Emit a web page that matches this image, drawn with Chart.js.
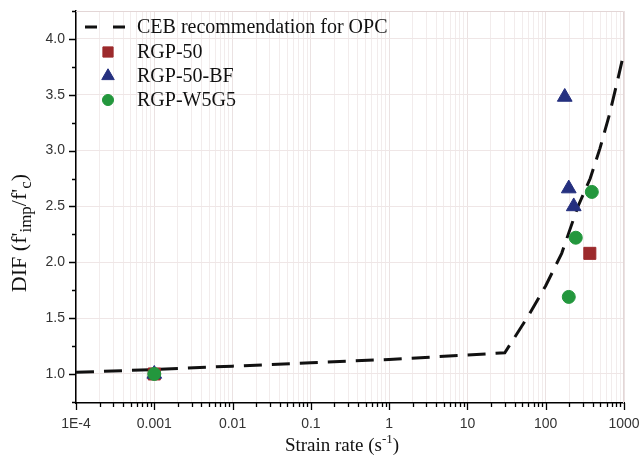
<!DOCTYPE html>
<html>
<head>
<meta charset="utf-8">
<script src="https://cdn.jsdelivr.net/npm/chart.js@4.4.0/dist/chart.umd.min.js"></script>
<style>
  html, body { margin: 0; padding: 0; background: #fff; }
  #wrap { width: 643px; height: 459px; }
</style>
</head>
<body>
<div id="wrap"><canvas id="chart"></canvas></div>
<script>
// CEB curve
const cebRate = [1e-4, 0.001, 0.01, 0.1, 1, 10, 30, 60, 100, 160, 258, 370, 493, 650, 835, 1000];
const cebDif = [1.015, 1.04, 1.07, 1.10, 1.13, 1.17, 1.19, 1.52, 1.79, 2.08, 2.50, 2.75, 3.02, 3.32, 3.64, 3.88];

// measured points
const rgp50Rate = [0.001, 366];
const rgp50Dif = [1.0, 2.08];
const rgpBfRate = [0.001, 175, 197, 228];
const rgpBfDif = [1.0, 3.48, 2.66, 2.50];
const w5g5Rate = [0.001, 388, 242, 197];
const w5g5Dif = [1.0, 2.63, 2.22, 1.69];

const xMajorTicks = [1e-4, 0.001, 0.01, 0.1, 1, 10, 100, 1000];
const xTickLabels = ['1E-4', '0.001', '0.01', '0.1', '1', '10', '100', '1000'];
const yMajorTicks = [1.0, 1.5, 2.0, 2.5, 3.0, 3.5, 4.0];

const legendLabels = ['CEB recommendation for OPC', 'RGP-50', 'RGP-50-BF', 'RGP-W5G5'];

function zip(xs, ys) {
    return xs.map((x, i) => ({x: x, y: ys[i]}));
}

// minor ticks: 2..9 in every decade, 0.25 steps on y
const xAllTicks = [];
for (let i = 0; i < xMajorTicks.length; i++) {
    xAllTicks.push(xMajorTicks[i]);
    if (i < xMajorTicks.length - 1) {
        for (let k = 2; k <= 9; k++) xAllTicks.push(Number((k * xMajorTicks[i]).toPrecision(3)));
    }
}
const yAllTicks = [];
for (let v = 0.75; v <= 4.2501; v += 0.25) yAllTicks.push(Math.round(v * 100) / 100);

function isXMajor(v) {
    return xMajorTicks.some(m => Math.abs(m - v) / m < 1e-6);
}
function isYMajor(v) {
    return yMajorTicks.some(m => Math.abs(m - v) < 1e-6);
}

// text with sub/superscript pieces
function richWidth(ctx, parts, size, f) {
    let w = 0;
    parts.forEach(p => {
        ctx.font = (p.s ? Math.round(size * f) : size) + 'px "Liberation Serif"';
        w += ctx.measureText(p.t).width;
    });
    return w;
}
function drawRich(ctx, parts, x, y, size, f) {
    let cx = x;
    parts.forEach(p => {
        const fs = p.s ? Math.round(size * f) : size;
        ctx.font = fs + 'px "Liberation Serif"';
        let dy = 0;
        if (p.s === 'sub') dy = size * 0.3;
        if (p.s === 'sup') dy = -size * 0.35;
        ctx.fillText(p.t, cx, y + dy);
        cx += ctx.measureText(p.t).width;
    });
}

const xTitle = [{t: 'Strain rate (s'}, {t: '-1', s: 'sup'}, {t: ')'}];
const yTitle = [{t: 'DIF (f\''}, {t: 'imp', s: 'sub'}, {t: '/f\''}, {t: 'c', s: 'sub'}, {t: ')'}];

const extras = {
    id: 'extras',
    beforeDatasetsDraw(chart) {
        const ctx = chart.ctx, a = chart.chartArea;
        ctx.save();
        ctx.strokeStyle = '#e3d6d6';
        ctx.lineWidth = 1;
        ctx.beginPath();
        ctx.moveTo(a.left, a.top + 0.5);
        ctx.lineTo(a.right - 0.5, a.top + 0.5);
        ctx.lineTo(a.right - 0.5, a.bottom);
        ctx.stroke();
        ctx.restore();
    },
    afterDraw(chart) {
        const ctx = chart.ctx, a = chart.chartArea;
        const xs = chart.scales.x, ys = chart.scales.y;
        ctx.save();
        // outward ticks
        ctx.strokeStyle = '#000';
        ctx.lineWidth = 1.3;
        ctx.beginPath();
        xAllTicks.forEach(v => {
            const px = Math.round(xs.getPixelForValue(v)) + 0.5;
            ctx.moveTo(px, a.bottom);
            ctx.lineTo(px, a.bottom + (isXMajor(v) ? 7 : 4));
        });
        yAllTicks.forEach(v => {
            const py = Math.round(ys.getPixelForValue(v)) + 0.5;
            ctx.moveTo(a.left, py);
            ctx.lineTo(a.left - (isYMajor(v) ? 7 : 4), py);
        });
        ctx.stroke();

        // axis titles
        ctx.fillStyle = '#111';
        ctx.textBaseline = 'middle';
        ctx.textAlign = 'left';
        const xw = richWidth(ctx, xTitle, 19, 0.66);
        drawRich(ctx, xTitle, (a.left + a.right) / 2 - xw / 2 - 8, 446, 19, 0.66);
        ctx.save();
        ctx.translate(20, 233);
        ctx.rotate(-Math.PI / 2);
        const yw = richWidth(ctx, yTitle, 22, 0.75);
        drawRich(ctx, yTitle, -yw / 2, 0, 22, 0.75);
        ctx.restore();

        // legend inside the plot
        const ds = chart.data.datasets;
        const rowY = [27, 52, 76, 100];
        legendLabels.forEach((label, i) => {
            const d = ds[i];
            if (i === 0) {
                ctx.save();
                ctx.strokeStyle = d.borderColor;
                ctx.lineWidth = 3;
                ctx.setLineDash([12, 16]);
                ctx.beginPath();
                ctx.moveTo(85, rowY[i]);
                ctx.lineTo(129, rowY[i]);
                ctx.stroke();
                ctx.restore();
            } else {
                ctx.fillStyle = d.backgroundColor;
                ctx.strokeStyle = d.borderColor;
                ctx.lineWidth = 1;
                Chart.helpers.drawPoint(ctx, {pointStyle: d.pointStyle, radius: d.pointRadius * 0.85, rotation: 0, borderWidth: 1}, 108, rowY[i]);
            }
            ctx.fillStyle = '#111';
            ctx.font = '20px "Liberation Serif"';
            ctx.fillText(label, 137, rowY[i] + 1);
        });
        ctx.restore();
    }
};

Chart.defaults.font.family = '"Liberation Sans", Arial, sans-serif';
Chart.defaults.font.size = 14;
Chart.defaults.color = '#333';

const ctxChart = document.getElementById('chart').getContext('2d');
const difChart = new Chart(ctxChart, {
    type: 'scatter',
    data: {
        datasets: [{
            label: legendLabels[0],
            data: zip(cebRate, cebDif),
            showLine: true,
            borderColor: '#111',
            borderWidth: 3,
            borderDash: [18, 10],
            pointRadius: 0,
            tension: 0,
            order: 4
        }, {
            label: legendLabels[1],
            data: zip(rgp50Rate, rgp50Dif),
            pointStyle: 'rect',
            pointRadius: 8.5,
            backgroundColor: '#9c2a2c',
            borderColor: '#9c2a2c',
            borderWidth: 1,
            order: 3
        }, {
            label: legendLabels[2],
            data: zip(rgpBfRate, rgpBfDif),
            pointStyle: 'triangle',
            pointRadius: 8.5,
            backgroundColor: '#25307f',
            borderColor: '#25307f',
            borderWidth: 1,
            order: 2
        }, {
            label: legendLabels[3],
            data: zip(w5g5Rate, w5g5Dif),
            pointStyle: 'circle',
            pointRadius: 6.5,
            backgroundColor: '#23973d',
            borderColor: '#23973d',
            borderWidth: 1,
            order: 1
        }]
    },
    options: {
        responsive: true,
        maintainAspectRatio: false,
        animation: false,
        layout: {
            padding: {top: 11, right: 19, left: 0, bottom: 0}
        },
        plugins: {
            legend: {display: false},
            tooltip: {enabled: false}
        },
        scales: {
            x: {
                type: 'logarithmic',
                min: 1e-4,
                max: 1000,
                afterBuildTicks: function(scale) {
                    scale.ticks = xAllTicks.map(v => ({value: v}));
                },
                afterFit: function(scale) {
                    scale.height = 56;
                    scale.paddingLeft = 0;
                    scale.paddingRight = 0;
                },
                ticks: {
                    autoSkip: false,
                    maxRotation: 0,
                    padding: 13,
                    callback: function(value) {
                        const i = xMajorTicks.findIndex(m => Math.abs(m - value) / m < 1e-6);
                        return i >= 0 ? xTickLabels[i] : '';
                    }
                },
                grid: {
                    drawTicks: false,
                    color: function(c) {
                        return isXMajor(c.tick.value) ? '#ebe2e2' : '#f2ecec';
                    },
                    lineWidth: 1
                },
                border: {color: '#000', width: 1.5}
            },
            y: {
                type: 'linear',
                min: 0.74,
                max: 4.25,
                afterBuildTicks: function(scale) {
                    scale.ticks = yAllTicks.map(v => ({value: v}));
                },
                afterFit: function(scale) {
                    scale.width = 76;
                    scale.paddingTop = 0;
                    scale.paddingBottom = 0;
                },
                ticks: {
                    autoSkip: false,
                    padding: 11,
                    callback: function(value) {
                        return isYMajor(value) ? value.toFixed(1) : '';
                    }
                },
                grid: {
                    drawTicks: false,
                    color: function(c) {
                        return isYMajor(c.tick.value) ? '#efe6e6' : 'rgba(0,0,0,0)';
                    },
                    lineWidth: 1
                },
                border: {color: '#000', width: 1.5}
            }
        }
    },
    plugins: [extras]
});
</script>
</body>
</html>
